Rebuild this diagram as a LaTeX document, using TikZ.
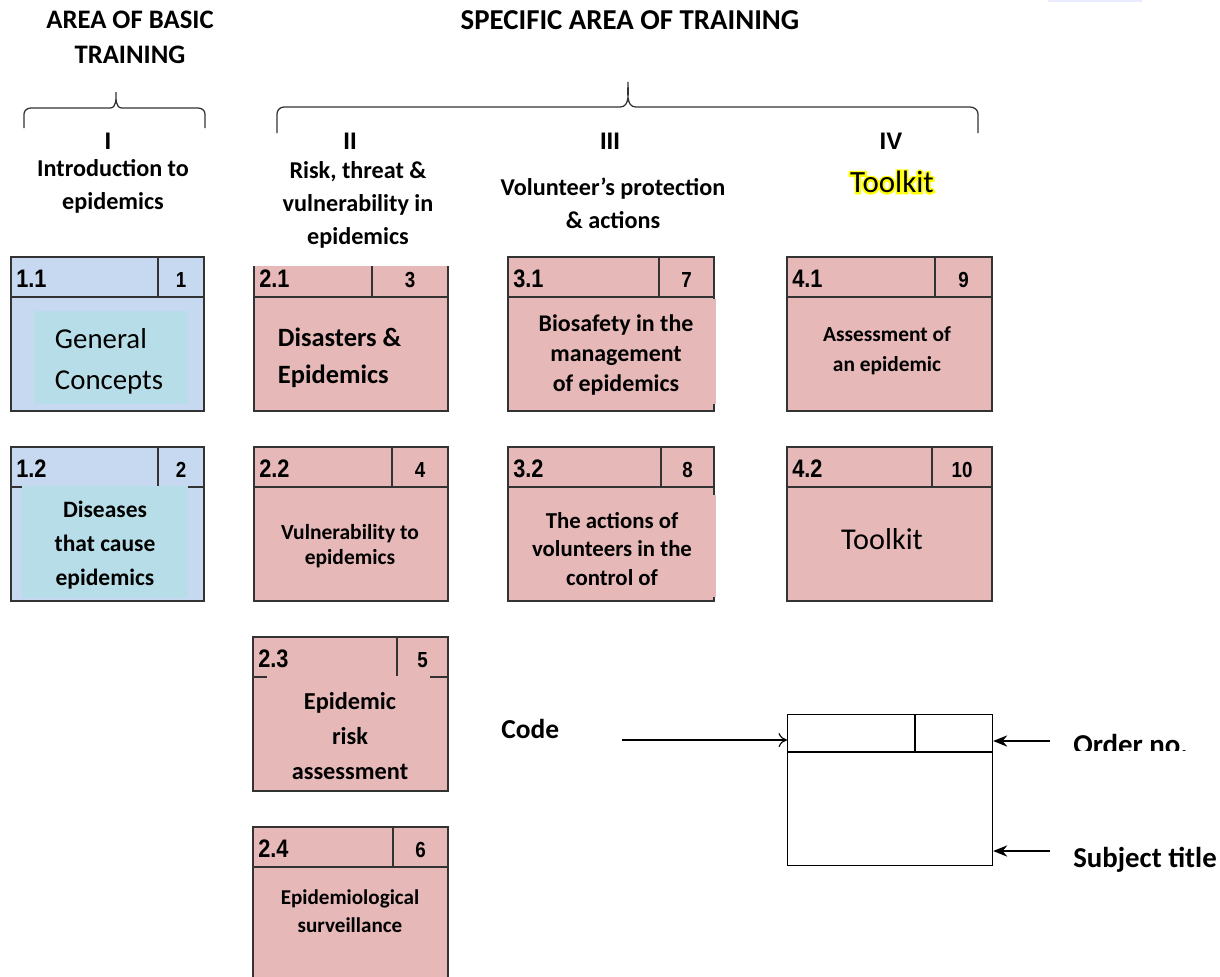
\documentclass[tikz,border=0pt]{standalone}
\usepackage{fontspec}
\setmainfont{Carlito}
\newfontfamily\arialfont{Liberation Sans}
\newfontfamily\narrowfont{Liberation Sans}[FakeStretch=0.86]
\newfontfamily\glowfont{Carlito}[FakeBold=12]
\usetikzlibrary{positioning, arrows.meta, calc}

\definecolor{bluefill}{HTML}{C6D9F0}
\definecolor{tealfill}{HTML}{B7DEE8}
\definecolor{pinkfill}{HTML}{E6B8B7}
\definecolor{hilite}{HTML}{FFFF00}

\tikzset{
  boxline/.style={draw=black!80, line width=1.1pt},
  codetext/.style={font=\narrowfont\bfseries\fontsize{18}{20}\selectfont, anchor=base west, inner sep=0pt},
  ordertext/.style={font=\narrowfont\bfseries\fontsize{15.5}{18}\selectfont, anchor=base, inner sep=0pt},
  areatitle/.style={font=\bfseries\fontsize{#1}{25}\selectfont, align=center},
  coltitle/.style={font=\bfseries\fontsize{17.2}{23.5}\selectfont, align=center},
  roman/.style={font=\arialfont\bfseries\fontsize{17}{19}\selectfont},
  boxtext/.style 2 args={font=\bfseries\fontsize{#1}{#2}\selectfont, align=center},
  plaintext/.style 2 args={font=\fontsize{#1}{#2}\selectfont, align=left},
  keytext/.style={font=\bfseries\fontsize{#1}{24}\selectfont, anchor=base west},
  legendline/.style={draw=black, line width=0.8pt},
  keyarrow/.style={line width=0.8pt, -{Stealth[length=10pt,width=8pt]}},
}

% one unit of the training: frame, code and order number
\newcommand{\unitbox}[8]{%
  % #1 name, #2 fill, #3 left, #4 top, #5 width, #6 divider, #7 code, #8 order no.
  \draw[boxline, fill=#2] (#3,#4) rectangle ++(#5,154);
  \draw[boxline] (#3,#4+40) -- ++(#5,0);
  \draw[boxline] (#6,#4) -- (#6,#4+40);
  \node[codetext] (#1code) at (#3+5,#4+30) {#7};
  \node[ordertext] (#1ord) at ({(#6+#3+#5)/2},#4+30) {#8};
}
% highlighted word: yellow halo under black letters
\newcommand{\glowword}[1]{\rlap{\glowfont\color{hilite}#1}#1}

\begin{document}
\begin{tikzpicture}[x=0.025cm, y=-0.025cm]
  \clip (0,0) rectangle (1220,976);
  \fill[blue!8] (1048,0) rectangle (1142,1.5);

  % Areas of training
  \node[areatitle=19] (basic) at (130,37) {AREA OF BASIC\\TRAINING};
  \node[areatitle=20.5] (specific) at (630,20) {SPECIFIC AREA OF TRAINING};

  % Braces
  \draw[line width=0.9pt, black!80] (24,128) -- (24,114) to[out=90,in=180] (31,108) -- (110,108)
    to[out=0,in=-90] (116,92) to[out=-90,in=180] (122,108) -- (198,108)
    to[out=0,in=90] (205,114) -- (205,128);
  \draw[line width=0.9pt, black!80] (277,133) -- (277,114) to[out=90,in=180] (284,107) -- (620,107)
    to[out=0,in=-90] (628,82) to[out=-90,in=180] (636,107) -- (970,107)
    to[out=0,in=90] (978,114) -- (978,133);

  % Columns
  \node[roman] (romI) at (108,141) {I};
  \node[roman] (romII) at (350,141) {II};
  \node[roman] (romIII) at (610,141) {III};
  \node[roman] (romIV) at (891,141) {IV};
  \node[coltitle] (colI) at (113,186) {Introduction to\\epidemics};
  \node[coltitle] (colII) at (358,205) {Risk, threat \&\\vulnerability in\\epidemics};
  \node[coltitle] (colIII) at (613,203) {Volunteer’s protection\\\& actions};
  \node[font=\fontsize{22}{24}\selectfont] (colIV) at (892,182) {\glowword{Toolkit}};

  % Area I
  \unitbox{u11}{bluefill}{11}{257}{193}{158}{1.1}{1}
  \fill[tealfill] (34,311) rectangle (188,404);
  \node[plaintext={20.5}{29}, anchor=west] (t11) at (50,361) {General\\Concepts};
  \unitbox{u12}{bluefill}{11}{447}{193}{158}{1.2}{2}
  \fill[tealfill] (22,486) rectangle (188,598);
  \node[boxtext={16.7}{24}] (t12) at (105,545) {Diseases\\that cause\\epidemics};

  % Area II
  \unitbox{u21}{pinkfill}{254}{257}{194}{372}{2.1}{3}
  \fill[white] (248,250) rectangle (454,266);
  \node[boxtext={18.8}{26}, align=left, anchor=west] (t21) at (273,358) {Disasters \&\\Epidemics};
  \unitbox{u22}{pinkfill}{254}{447}{194}{392}{2.2}{4}
  \node[boxtext={15.3}{18}] (t22) at (350,546) {Vulnerability to\\epidemics};
  \unitbox{u23}{pinkfill}{253}{637}{195}{397}{2.3}{5}
  \fill[pinkfill] (267,676) rectangle (430,789);
  \node[boxtext={17.3}{25}] (t23) at (350,736) {Epidemic\\risk\\assessment};
  \unitbox{u24}{pinkfill}{253}{827}{195}{393}{2.4}{6}
  \node[boxtext={15}{20}] (t24) at (350,911) {Epidemiological\\surveillance};

  % Area III
  \unitbox{u31}{pinkfill}{508}{257}{206}{659}{3.1}{7}
  \fill[pinkfill] (509,299) rectangle (716,404);
  \node[boxtext={17}{21}] (t31) at (616,355) {Biosafety in the\\management\\of epidemics};
  \unitbox{u32}{pinkfill}{508}{447}{206}{661}{3.2}{8}
  \fill[pinkfill] (509,495) rectangle (716,597);
  \node[boxtext={16.2}{20}] (t32) at (612,549) {The actions of\\volunteers in the\\control of};

  % Area IV
  \unitbox{u41}{pinkfill}{787}{257}{205}{935}{4.1}{9}
  \node[boxtext={15.2}{21}] (t41) at (887,351) {Assessment of\\an epidemic};
  \unitbox{u42}{pinkfill}{787}{447}{205}{932}{4.2}{10}
  \node[plaintext={21.5}{24}] (t42) at (882,539) {Toolkit};

  % Key to the boxes
  \node[legendline, anchor=north west, minimum width=5.125cm, minimum height=3.775cm, inner sep=0pt] (legend) at (787,714) {};
  \draw[legendline] (787,752) -- (992,752);
  \draw[legendline] (915,714) -- (915,752);
  \node[keytext=19.5, inner sep=0pt] (code) at (501,738) {Code};
  \coordinate (codetail) at (622,740);
  \draw[line width=0.8pt, -{To[length=6pt,width=10pt]}] (codetail) -- (legend.west |- codetail);
  \begin{scope}
    \clip (1060,725) rectangle (1220,750);
    \node[keytext=20.5, inner sep=0pt] (order) at (1073,754) {Order no.};
  \end{scope}
  \coordinate (ordtail) at (1050,741);
  \draw[keyarrow] (ordtail) -- (legend.east |- ordtail);
  \node[keytext=20.5, inner sep=0pt] (subject) at (1073,867) {Subject title};
  \coordinate (subjtail) at (1050,851);
  \draw[keyarrow] (subjtail) -- (legend.east |- subjtail);
\end{tikzpicture}
\end{document}
